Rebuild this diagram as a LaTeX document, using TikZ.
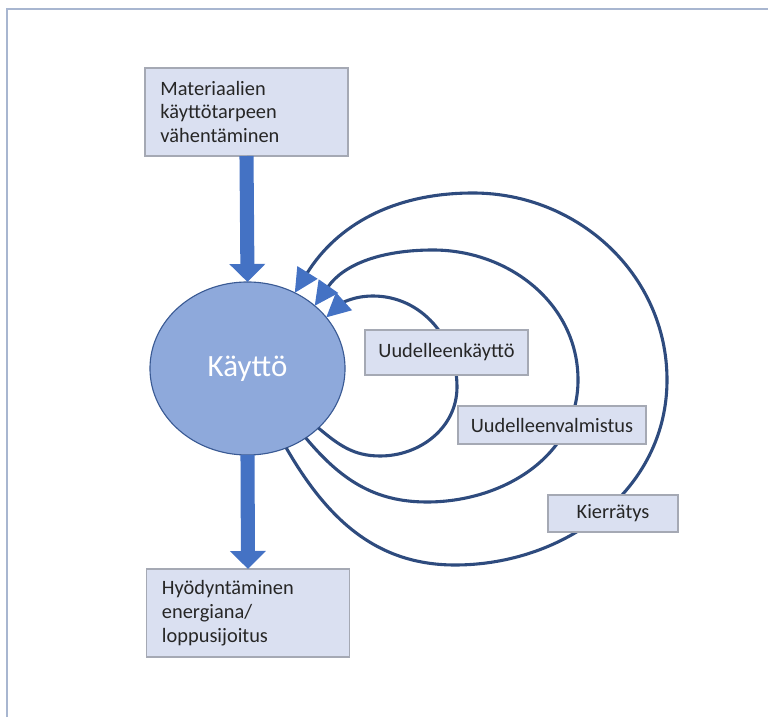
\documentclass[tikz,border=0pt]{standalone}
\usepackage{fontspec}
\setmainfont{Carlito}
\usepackage{xcolor}
\usepackage{tikz}
\usetikzlibrary{arrows.meta}
\usetikzlibrary{shapes.geometric}

\definecolor{boxfill}{HTML}{DAE0F1}
\definecolor{boxline}{HTML}{A5A9B4}
\definecolor{usefill}{HTML}{8EA9DB}
\definecolor{useline}{HTML}{3A5A94}
\definecolor{flowblue}{HTML}{4472C4}
\definecolor{ringblue}{HTML}{2E4B7E}
\definecolor{framecol}{HTML}{A8B6D0}
\definecolor{txt}{HTML}{262626}

\tikzset{
  box/.style={draw=boxline,fill=boxfill,line width=0.8pt,outer sep=0pt,
    text=txt,font=\fontsize{14.5}{17}\selectfont},
  bigbox/.style={box,minimum width=5.075cm,minimum height=2.2cm,
    text width=4.3cm,align=left},
  smallbox/.style={box,minimum height=1cm},
  flow/.style={flowblue,line width=10pt,
    -{Triangle[length=0.45cm,width=0.875cm]}},
  ring/.style={ringblue,line width=2.2pt,
    -{Triangle[length=0.6cm,width=0.58cm,color=flowblue]}}
}

\begin{document}
\begin{tikzpicture}[x=0.025cm,y=0.025cm]
    \useasboundingbox (0,0) rectangle (768,717);
    \draw[framecol,line width=1.5pt] (7,0) -- (7,708) -- (768,708);

    \node[bigbox] (vahent) at (246.5,605)
      {Materiaalien\\k\"ayttötarpeen\\v\"ahent\"aminen};
    \node[ellipse,draw=useline,fill=usefill,line width=0.8pt,inner sep=0pt,
      outer sep=0pt,minimum width=4.875cm,minimum height=4.325cm,
      text=white,font=\fontsize{22}{26}\selectfont] (kaytto) at (247.5,348.5) {Käyttö};
    \node[bigbox] (hyod) at (248,104)
      {Hyödyntäminen\\energiana/\\loppusijoitus};

    \draw[flow] (vahent.south) -- (kaytto.north);
    \draw[flow] (kaytto.south) -- (hyod.north);

    % kierrokset takaisin kayttoon
    \draw[ring] (kaytto.-40) to[out=-40,in=180] (380,261)
      to[out=0,in=-90] (457,330) to[out=90,in=0] (373,421)
      to[out=180,in=42] (kaytto.33);
    \draw[ring] (kaytto.-50) to[out=-50,in=180] (427,215)
      to[out=0,in=-90] (578,337) to[out=90,in=0] (433,467)
      to[out=180,in=55] (kaytto.43);
    \draw[ring] (kaytto.-64) to[out=-60,in=180] (455,152)
      to[out=0,in=-90] (667,337) to[out=90,in=0] (473,524)
      to[out=180,in=58] (kaytto.58);

    \node[smallbox,minimum width=4.075cm,minimum height=1.125cm] (uudkay) at (446.5,364.5) {Uudelleenkäyttö};
    \node[smallbox,minimum width=4.7cm,minimum height=0.95cm] (uudval) at (552,292) {Uudelleenvalmistus};
    \node[smallbox,minimum width=3.25cm,minimum height=0.925cm] (kierr) at (613,203.5) {Kierrätys};
\end{tikzpicture}
\end{document}
